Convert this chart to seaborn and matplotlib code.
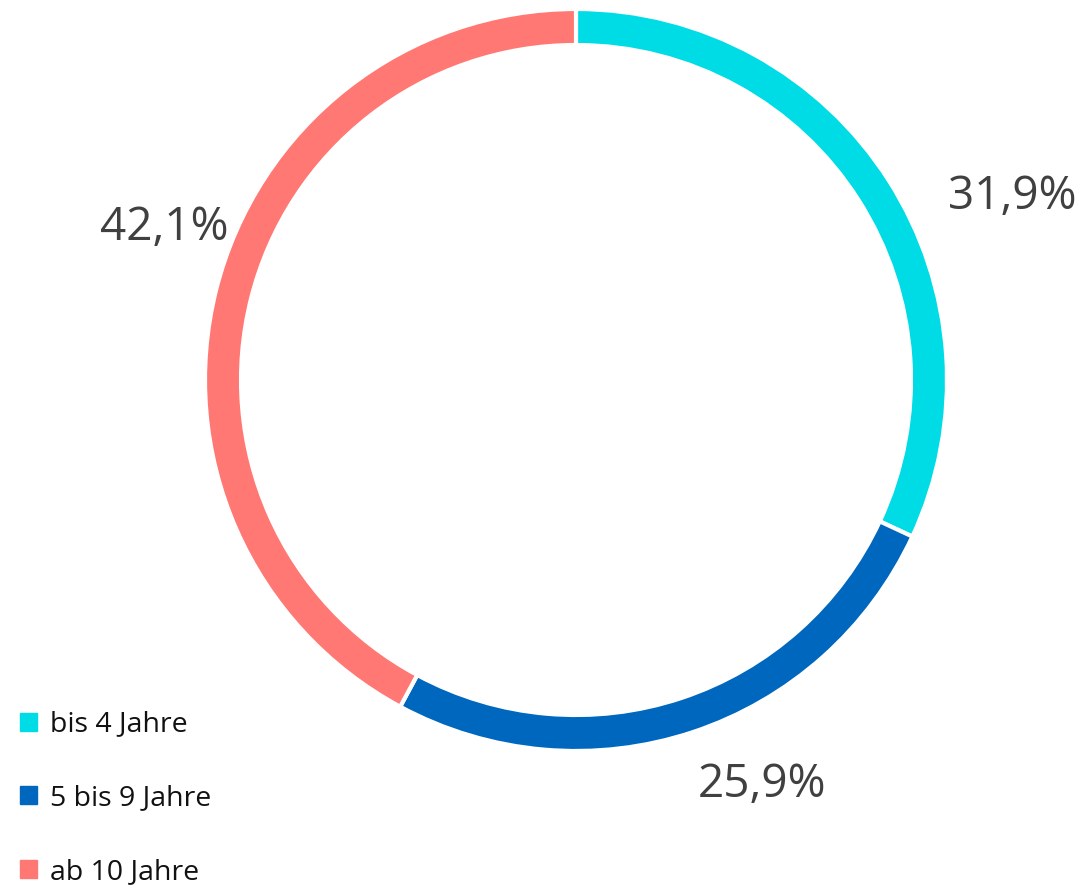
import numpy as np
import matplotlib
matplotlib.use("Agg")
import matplotlib.pyplot as plt
import matplotlib.patches as mpatches
import seaborn as sns

# Daten
kategorien = ["bis 4 Jahre", "5 bis 9 Jahre", "ab 10 Jahre"]
anteile = [31.9, 25.9, 42.1]
farben = ["#00DCE6", "#0067BF", "#FF7873"]

# Label-Platzierung (Winkel-Korrektur in Grad, Radius relativ zum Ring)
label_winkel_offset = [-9.8, 6.3, -6.1]
label_radius = [1.275, 1.2, 1.183]

sns.set_theme(style="white")
plt.rcParams["font.family"] = ["Open Sans", "DejaVu Sans"]

fig = plt.figure(figsize=(10.92, 8.90), dpi=100)
cx, cy, r_px = 576, 380, 371
ax = fig.add_axes([(cx - r_px) / 1092, (890 - cy - r_px) / 890, 2 * r_px / 1092, 2 * r_px / 890])

wedges, _ = ax.pie(anteile, colors=farben, startangle=90, counterclock=False,
                   radius=1.0,
                   wedgeprops=dict(width=36 / 371, edgecolor="white", linewidth=3))
ax.set_xlim(-1, 1)
ax.set_ylim(-1, 1)
ax.set_aspect("equal")
ax.axis("off")

# Prozent-Labels ausserhalb des Rings
for w, wert, off, rr in zip(wedges, anteile, label_winkel_offset, label_radius):
    mitte = np.deg2rad((w.theta1 + w.theta2) / 2 + off)
    ax.text(rr * np.cos(mitte), rr * np.sin(mitte), f"{wert:.1f}%".replace(".", ","),
            ha="center", va="center", fontsize=33, color="#404040", clip_on=False)

handles = [mpatches.Patch(color=f, label=k) for f, k in zip(farben, kategorien)]
fig.legend(handles=handles, loc="lower left", bbox_to_anchor=(-0.005, -0.024),
           frameon=False, fontsize=20.5, labelspacing=1.6, handlelength=0.6,
           handleheight=0.6, handletextpad=0.45, labelcolor="#111111")

fig.savefig("out.png", dpi=100, facecolor="white")
